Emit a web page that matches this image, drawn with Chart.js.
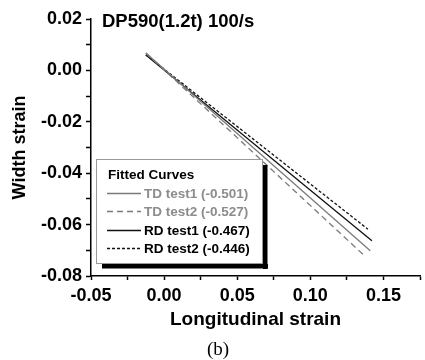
<!DOCTYPE html>
<html>
<head>
<meta charset="utf-8">
<script src="https://cdn.jsdelivr.net/npm/chart.js@4.4.1/dist/chart.umd.min.js"></script>
<style>
  html, body { margin: 0; padding: 0; background: #fff; }
  #wrap { width: 425px; height: 360px; position: relative; }
</style>
</head>
<body>
<div id="wrap"><canvas id="c" width="425" height="360"></canvas></div>
<script>
// ---- data ----
const seriesLabels = ['TD test1 (-0.501)', 'TD test2 (-0.527)', 'RD test1 (-0.467)', 'RD test2 (-0.446)'];
const xStart = [-0.0125, -0.0125, -0.0125, -0.0125];
const yStart = [0.0068, 0.0068, 0.0060, 0.0061];
const xEnd   = [0.1410, 0.1372, 0.1421, 0.1394];
const yEnd   = [-0.0702, -0.0722, -0.0663, -0.0618];
const xTicks = [-0.05, 0.00, 0.05, 0.10, 0.15];
const yTicks = [-0.08, -0.06, -0.04, -0.02, 0.00, 0.02];
const chartTitle = 'DP590(1.2t) 100/s';
const legendTitle = 'Fitted Curves';
const xTitle = 'Longitudinal strain';
const yTitle = 'Width strain';
const caption = '(b)';

// ---- styles ----
const GREY = '#7a7a7a';
const styles = [
  { color: GREY, dash: [], text: '#8c8c8c' },
  { color: GREY, dash: [6, 4], text: '#8c8c8c' },
  { color: '#111', dash: [], text: '#000' },
  { color: '#111', dash: [3, 2], text: '#000' }
];
const FONT = "'Liberation Sans', Arial, sans-serif";

const datasets = seriesLabels.map((lab, i) => ({
  label: lab,
  data: [{ x: xStart[i], y: yStart[i] }, { x: xEnd[i], y: yEnd[i] }],
  showLine: true,
  borderColor: styles[i].color,
  borderDash: styles[i].dash,
  borderWidth: 1.3,
  pointRadius: 0,
  fill: false,
  tension: 0
}));

const near = (v, arr) => arr.some(t => Math.abs(t - v) < 1e-6);

const overlay = {
  id: 'overlay',
  afterDraw(chart) {
    const ctx = chart.ctx;
    ctx.save();
    // chart title
    ctx.fillStyle = '#000';
    ctx.font = "bold 18.5px " + FONT;
    ctx.textAlign = 'left';
    ctx.textBaseline = 'alphabetic';
    ctx.fillText(chartTitle, 102, 27);

    // legend box with shadow
    const bx = 96, by = 159, bw = 166, bh = 104;
    ctx.fillStyle = '#000';
    ctx.fillRect(bx + bw + 1, by + 6, 4.5, bh);
    ctx.fillRect(bx + 6, by + bh + 1, bw, 4.5);
    ctx.fillStyle = '#fff';
    ctx.fillRect(bx, by, bw, bh);
    ctx.strokeStyle = '#999';
    ctx.lineWidth = 1;
    ctx.strokeRect(bx + 0.5, by + 0.5, bw, bh);

    ctx.fillStyle = '#000';
    ctx.font = "bold 13.5px " + FONT;
    ctx.textBaseline = 'middle';
    ctx.fillText(legendTitle, 108, 175);
    const rows = [193, 211, 230, 248];
    chart.data.datasets.forEach((ds, i) => {
      const y = rows[i];
      ctx.strokeStyle = ds.borderColor;
      ctx.lineWidth = 1.3;
      ctx.setLineDash(ds.borderDash);
      ctx.beginPath();
      ctx.moveTo(107, y + 0.5);
      ctx.lineTo(141, y + 0.5);
      ctx.stroke();
      ctx.setLineDash([]);
      ctx.fillStyle = styles[i].text;
      ctx.fillText(ds.label, 144, y + 1);
    });

    // caption
    ctx.fillStyle = '#000';
    ctx.font = "19px 'Liberation Serif', 'Times New Roman', serif";
    ctx.textAlign = 'center';
    ctx.textBaseline = 'alphabetic';
    ctx.fillText(caption, 218, 355);
    ctx.restore();
  }
};

new Chart(document.getElementById('c'), {
  type: 'scatter',
  data: { datasets },
  options: {
    responsive: false,
    animation: false,
    devicePixelRatio: 1,
    layout: { padding: { top: 19, right: 1, left: 0, bottom: 0 } },
    plugins: { legend: { display: false }, tooltip: { enabled: false }, title: { display: false } },
    scales: {
      x: {
        type: 'linear',
        min: -0.05, max: 0.175,
        afterFit(s) { s.height = 84; },
        border: { display: true, color: '#000', width: 1.5 },
        grid: { drawOnChartArea: false, drawTicks: true, tickLength: 4, tickColor: '#000', tickWidth: 1.5 },
        ticks: {
          stepSize: 0.025, autoSkip: false, maxRotation: 0, padding: 5,
          color: '#000', font: { family: FONT, size: 18, weight: 'bold' },
          callback: v => near(v, xTicks) ? (Math.abs(v) < 1e-9 ? 0 : v).toFixed(2) : ''
        },
        title: {
          display: true, text: xTitle, color: '#000',
          font: { family: FONT, size: 19, weight: 'bold' },
          padding: { top: 0, bottom: 29 }
        }
      },
      y: {
        type: 'linear',
        min: -0.08, max: 0.02,
        afterFit(s) { s.width = 91; },
        border: { display: true, color: '#000', width: 1.5 },
        grid: { drawOnChartArea: false, drawTicks: true, tickLength: 5, tickColor: '#000', tickWidth: 1.5 },
        ticks: {
          stepSize: 0.01, autoSkip: false, padding: 4,
          color: '#000', font: { family: FONT, size: 18, weight: 'bold' },
          callback: v => near(v, yTicks) ? (Math.abs(v) < 1e-9 ? 0 : v).toFixed(2) : ''
        },
        title: {
          display: true, text: yTitle, color: '#000',
          font: { family: FONT, size: 18, weight: 'bold' },
          padding: { top: 9, bottom: 0 }
        }
      }
    }
  },
  plugins: [overlay]
});
</script>
</body>
</html>
